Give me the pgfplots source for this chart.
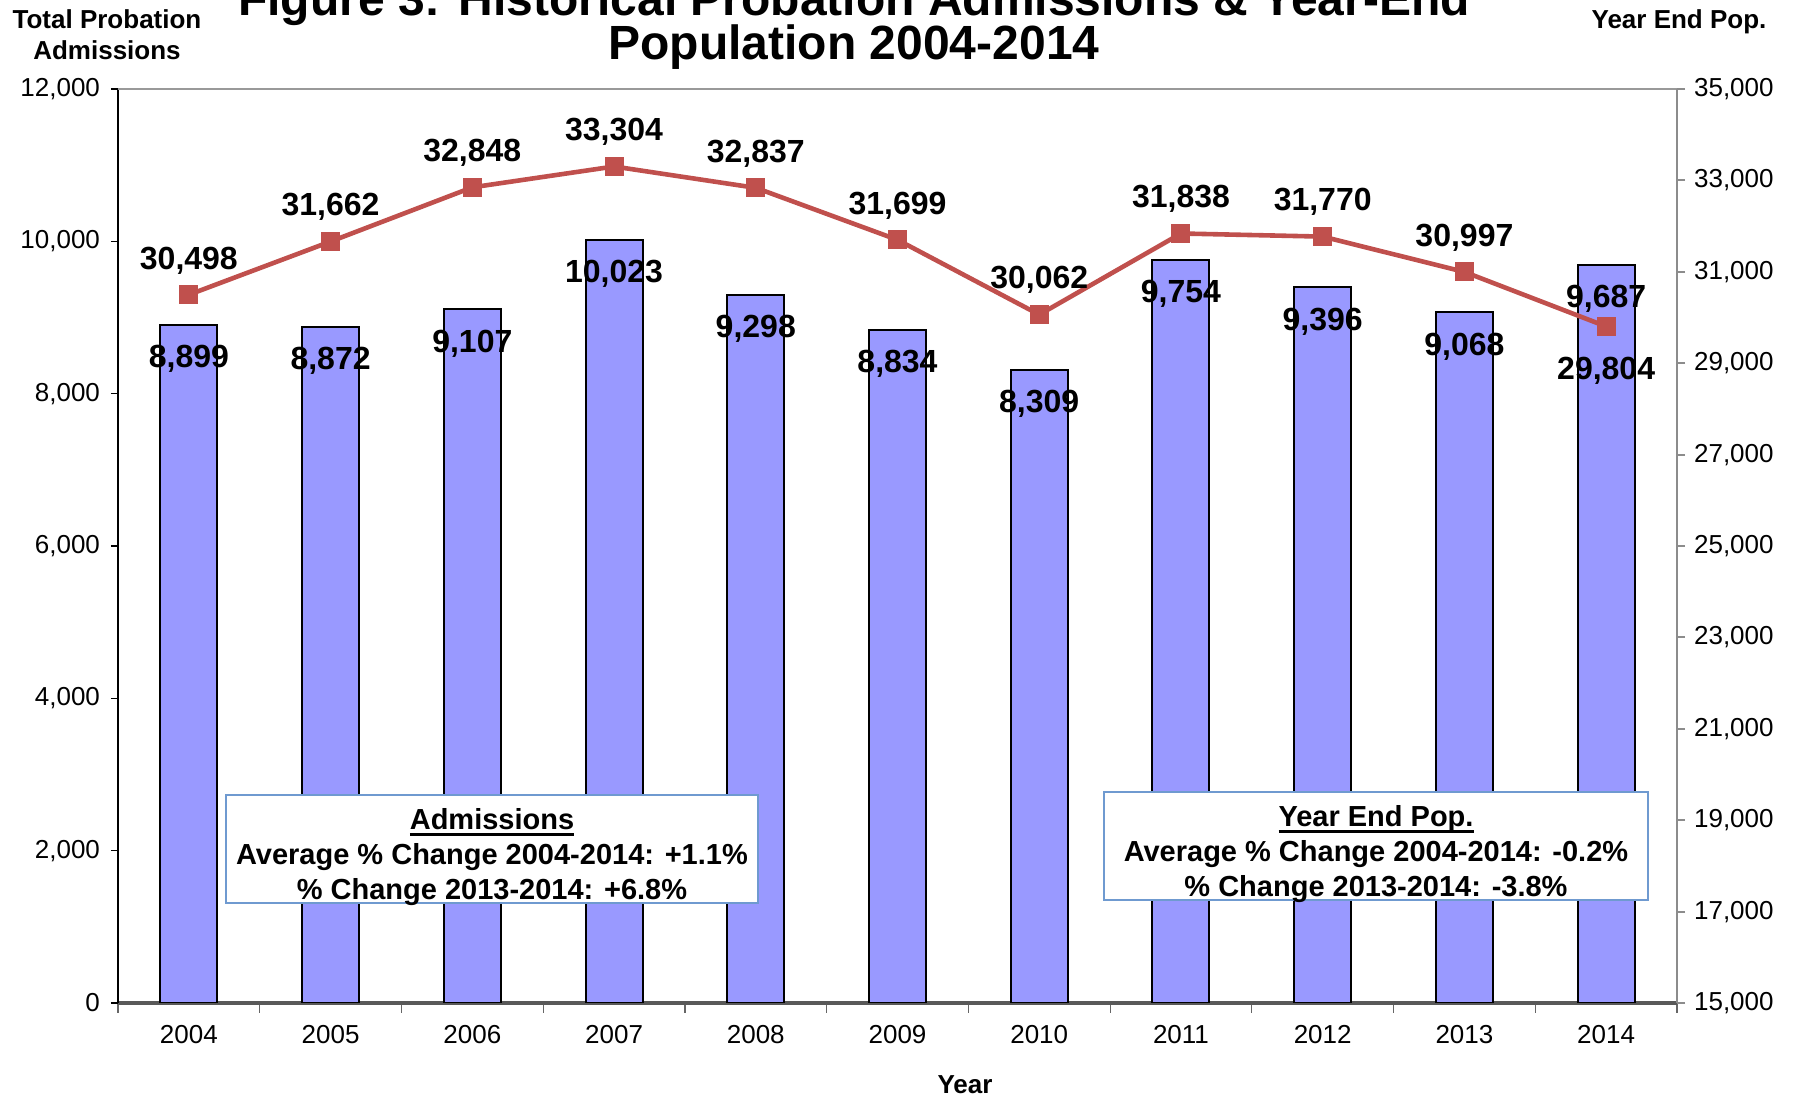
\documentclass[border=0pt]{standalone}
\usepackage{fontspec}
\setmainfont{Liberation Sans}
\usepackage{pgfplots}
\usepackage{pgfplotstable}
\pgfplotsset{compat=1.18}

\definecolor{barblue}{HTML}{9999FF}
\definecolor{linered}{HTML}{C0504D}
\definecolor{boxblue}{HTML}{6F9AD0}

% underline set a little lower than \underline
\newcommand\ul[1]{\leavevmode\setbox0\hbox{#1}\rlap{\rule[-3.2pt]{\wd0}{1.2pt}}\box0}

% x: category position, shift: label offset of the population label (pt)
\pgfplotstableread{
x year adm pop shift
0 2004 8899 30498 17.2
1 2005 8872 31662 17.2
2 2006 9107 32848 17.2
3 2007 10023 33304 17.2
4 2008 9298 32837 17.2
5 2009 8834 31699 17.2
6 2010 8309 30062 17.2
7 2011 9754 31838 17.2
8 2012 9396 31770 17.2
9 2013 9068 30997 17.2
10 2014 9687 29804 -22
}\datatable

\pgfplotsset{
  common/.style={
    at={(0,0)}, anchor=south west,
    scale only axis, width=779.5pt, height=457pt,
    xmin=-0.5, xmax=10.5,
    scaled y ticks=false,
    tick align=outside,
    ticklabel style={font=\fontsize{13}{15}\selectfont},
    /pgf/number format/.cd, fixed, precision=0, 1000 sep={,}, assume math mode=true,
  },
}

\begin{document}
\begin{tikzpicture}
% admissions (bars, left axis)
\begin{axis}[common,
  ymin=0, ymax=12000,
  ytick={0,2000,...,12000},
  axis x line*=bottom, axis y line*=left,
  xtick={0,...,10},
  xticklabels={2004,2005,2006,2007,2008,2009,2010,2011,2012,2013,2014},
  minor xtick={-0.5,0.5,...,10.5},
  major x tick style={draw=none},
  minor x tick style={black!60, line width=0.6pt},
  minor tick length=5pt,
  xticklabel style={yshift=-4pt},
  y axis line style={black, line width=0.7pt},
  ytick style={black, line width=0.7pt},
  major tick length=3.5pt,
  yticklabel style={xshift=-2pt},
  x axis line style={black!65, line width=1.6pt},
  after end axis/.code={\draw[black!40, line width=1pt] (rel axis cs:0,1) -- (rel axis cs:1,1);},
]
\addplot[ybar, bar width=28.5pt, fill=barblue, draw=black, line width=1pt,
  nodes near coords,
  every node near coord/.append style={anchor=center, yshift=-17pt,
    font=\bfseries\fontsize{16}{18}\selectfont, text=black}]
  table[x=x, y=adm] {\datatable};
\end{axis}

% year end population (line, right axis)
\begin{axis}[common,
  ymin=15000, ymax=35000,
  ytick={15000,17000,...,35000},
  axis x line=none, axis y line*=right,
  y axis line style={black!45, line width=1pt},
  ytick style={black!45, line width=1pt},
  major tick length=4pt,
  yticklabel style={xshift=1pt},
]
\addplot[linered, line width=2.3pt, mark=square*, mark size=4.5pt,
  mark options={fill=linered, draw=linered, line width=0pt},
  visualization depends on={\thisrow{shift} \as \myshift},
  nodes near coords,
  every node near coord/.append style={anchor=center, yshift=\myshift pt,
    font=\bfseries\fontsize{16}{18}\selectfont, text=black}]
  table[x=x, y=pop] {\datatable};
\end{axis}

% titles and axis captions
\node[font=\bfseries\fontsize{24}{26}\selectfont] at (368pt,500pt)
  {Figure 3: Historical Probation Admissions \& Year-End};
\node[font=\bfseries\fontsize{24}{26}\selectfont] at (368pt,478pt)
  {Population 2004-2014};
\node[font=\bfseries\fontsize{13}{15.5}\selectfont, align=center] at (-5.5pt,484pt)
  {Total Probation\\Admissions};
\node[font=\bfseries\fontsize{13}{15}\selectfont] at (780.5pt,490.5pt) {Year End Pop.};
\node[font=\bfseries\fontsize{13}{15}\selectfont] at (423.5pt,-41pt) {Year};

% summary boxes
\draw[boxblue, line width=0.8pt, fill=white] (54pt,50pt) rectangle (320pt,104pt);
\node[align=center, inner sep=0pt, font=\bfseries\fontsize{14.5}{17.5}\selectfont]
  at (187pt,73pt)
  {\ul{Admissions}\\Average \% Change 2004-2014: +1.1\%\\\% Change 2013-2014: +6.8\%};
\draw[boxblue, line width=0.8pt, fill=white] (493pt,51.5pt) rectangle (765pt,105.5pt);
\node[align=center, inner sep=0pt, font=\bfseries\fontsize{14.5}{17.5}\selectfont]
  at (629pt,74.5pt)
  {\ul{Year End Pop.}\\Average \% Change 2004-2014: -0.2\%\\\% Change 2013-2014: -3.8\%};

\pgfresetboundingbox
\useasboundingbox (-59pt,-46.5pt) rectangle (842pt,501.5pt);
\end{tikzpicture}
\end{document}
